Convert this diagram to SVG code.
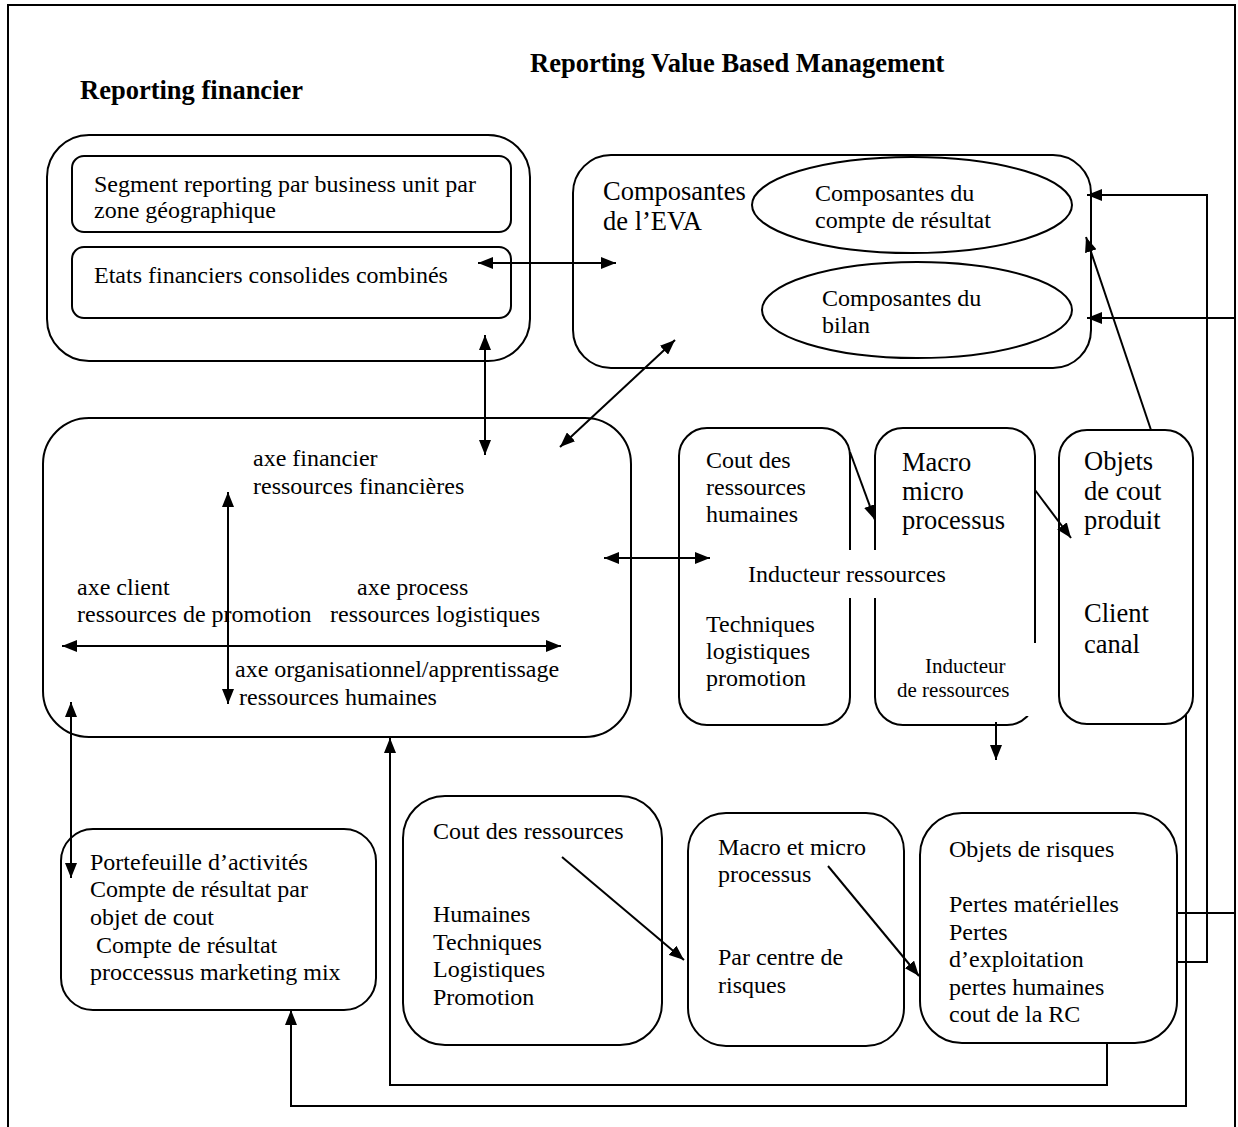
<svg xmlns="http://www.w3.org/2000/svg" width="1238" height="1127" viewBox="0 0 1238 1127">
<defs>
<style>
text{font-family:"Liberation Serif","Times New Roman",serif;fill:#000}
.b{font-size:24px}
.l{font-size:26.5px}
.s{font-size:21px}
.t{font-size:26.5px;font-weight:bold}
.box{fill:none;stroke:#000;stroke-width:2}
.ln{fill:none;stroke:#000;stroke-width:2}
.wb{fill:#fff;stroke:none}
</style>
<marker id="ah" viewBox="0 0 15 12" refX="15" refY="6" markerWidth="15" markerHeight="12" orient="auto-start-reverse" markerUnits="userSpaceOnUse"><path d="M0,0 L15,6 L0,12 z" fill="#000"/></marker>
</defs>
<rect width="1238" height="1127" fill="#fff"/>
<path d="M8,1127 V5 H1235 V1127" fill="none" stroke="#000" stroke-width="2"/>

<g id="titles">
<text class="t" x="530" y="72">Reporting Value Based Management</text>
<text class="t" x="80" y="99">Reporting financier</text>
</g>

<g id="n-reporting-financier"><rect class="box" x="47" y="135" width="483" height="226" rx="42"/></g>
<g id="n-segment"><rect class="box" x="72" y="156" width="439" height="76" rx="12"/>
<text class="b" x="94" y="192">Segment reporting par business unit par</text>
<text class="b" x="94" y="218">zone géographique</text></g>
<g id="n-etats"><rect class="box" x="72" y="247" width="439" height="71" rx="12"/>
<text class="b" x="94" y="283">Etats financiers consolides combinés</text></g>

<g id="n-eva"><rect class="box" x="573" y="155" width="518" height="213" rx="38"/>
<text class="l" x="603" y="200">Composantes</text>
<text class="l" x="603" y="230">de l’EVA</text></g>
<g id="n-eva-cr"><ellipse class="box" cx="912" cy="205" rx="160" ry="48"/>
<text class="b" x="815" y="201">Composantes du</text>
<text class="b" x="815" y="228">compte de résultat</text></g>
<g id="n-eva-bilan"><ellipse class="box" cx="917" cy="310" rx="155" ry="48"/>
<text class="b" x="822" y="306">Composantes du</text>
<text class="b" x="822" y="333">bilan</text></g>

<g id="n-axes"><rect class="box" x="43" y="418" width="588" height="319" rx="46"/>
<line class="ln" x1="228" y1="492" x2="228" y2="704" marker-start="url(#ah)" marker-end="url(#ah)"/>
<line class="ln" x1="62" y1="646" x2="561" y2="646" marker-start="url(#ah)" marker-end="url(#ah)"/>
<text class="b" x="253" y="466">axe financier</text>
<text class="b" x="253" y="494">ressources financières</text>
<text class="b" x="77" y="595">axe client</text>
<text class="b" x="77" y="622">ressources de promotion</text>
<text class="b" x="357" y="595">axe process</text>
<text class="b" x="330" y="622">ressources logistiques</text>
<text class="b" x="235" y="677">axe organisationnel/apprentissage</text>
<text class="b" x="239" y="705">ressources humaines</text></g>

<g id="n-cout-rh"><rect class="box" x="679" y="428" width="171" height="297" rx="28"/>
<text class="b" x="706" y="468">Cout des</text>
<text class="b" x="706" y="495">ressources</text>
<text class="b" x="706" y="522">humaines</text>
<text class="b" x="706" y="632">Techniques</text>
<text class="b" x="706" y="659">logistiques</text>
<text class="b" x="706" y="686">promotion</text></g>

<g id="n-macro"><rect class="box" x="875" y="428" width="160" height="297" rx="28"/>
<text class="l" x="902" y="471">Macro</text>
<text class="l" x="902" y="500">micro</text>
<text class="l" x="902" y="529">processus</text>
<rect class="wb" x="884" y="643" width="154" height="73"/>
<text class="s" x="925" y="673">Inducteur</text>
<text class="s" x="897" y="697">de ressources</text></g>

<g id="n-objets-cout"><rect class="box" x="1059" y="430" width="134" height="294" rx="28"/>
<text class="l" x="1084" y="470">Objets</text>
<text class="l" x="1084" y="500">de cout</text>
<text class="l" x="1084" y="529">produit</text>
<text class="l" x="1084" y="622">Client</text>
<text class="l" x="1084" y="653">canal</text></g>

<g id="lbl-inducteur">
<rect class="wb" x="720" y="550" width="280" height="48"/>
<text class="b" x="748" y="582">Inducteur ressources</text></g>

<g id="n-portefeuille"><rect class="box" x="61" y="829" width="315" height="181" rx="32"/>
<text class="b" x="90" y="870">Portefeuille d’activités</text>
<text class="b" x="90" y="897">Compte de résultat par</text>
<text class="b" x="90" y="925">objet de cout</text>
<text class="b" x="90" y="953" xml:space="preserve"> Compte de résultat</text>
<text class="b" x="90" y="980">proccessus marketing mix</text></g>

<g id="n-cout-ressources"><rect class="box" x="403" y="796" width="259" height="249" rx="42"/>
<text class="b" x="433" y="839">Cout des ressources</text>
<text class="b" x="433" y="922">Humaines</text>
<text class="b" x="433" y="950">Techniques</text>
<text class="b" x="433" y="977">Logistiques</text>
<text class="b" x="433" y="1005">Promotion</text></g>

<g id="n-macro-micro"><rect class="box" x="688" y="813" width="216" height="233" rx="38"/>
<text class="b" x="718" y="855">Macro et micro</text>
<text class="b" x="718" y="882">processus</text>
<text class="b" x="718" y="965">Par centre de</text>
<text class="b" x="718" y="993">risques</text></g>

<g id="n-objets-risques"><rect class="box" x="920" y="813" width="257" height="230" rx="42"/>
<text class="b" x="949" y="857">Objets de risques</text>
<text class="b" x="949" y="912">Pertes matérielles</text>
<text class="b" x="949" y="940">Pertes</text>
<text class="b" x="949" y="967">d’exploitation</text>
<text class="b" x="949" y="995">pertes humaines</text>
<text class="b" x="949" y="1022">cout de la RC</text></g>

<g id="connectors">
<line class="ln" x1="478" y1="263" x2="616" y2="263" marker-start="url(#ah)" marker-end="url(#ah)"/>
<line class="ln" x1="485" y1="335" x2="485" y2="455" marker-start="url(#ah)" marker-end="url(#ah)"/>
<line class="ln" x1="675" y1="340" x2="560" y2="447" marker-start="url(#ah)" marker-end="url(#ah)"/>
<line class="ln" x1="604" y1="558" x2="710" y2="558" marker-start="url(#ah)" marker-end="url(#ah)"/>
<line class="ln" x1="850" y1="452" x2="875" y2="520" marker-end="url(#ah)"/>
<line class="ln" x1="1035" y1="490" x2="1071" y2="538" marker-end="url(#ah)"/>
<line class="ln" x1="1151" y1="430" x2="1086" y2="237" marker-end="url(#ah)"/>
<line class="ln" x1="996" y1="722" x2="996" y2="760" marker-end="url(#ah)"/>
<polyline class="ln" points="1177,913 1235,913 1235,318 1087,318" marker-end="url(#ah)"/>
<polyline class="ln" points="1177,962 1207,962 1207,195 1087,195" marker-end="url(#ah)"/>
<polyline class="ln" points="1107,1043 1107,1085 390,1085 390,738" marker-end="url(#ah)"/>
<polyline class="ln" points="1186,715 1186,1106 291,1106 291,1010" marker-end="url(#ah)"/>
<line class="ln" x1="71" y1="702" x2="71" y2="878" marker-start="url(#ah)" marker-end="url(#ah)"/>
<line class="ln" x1="562" y1="857" x2="684" y2="960" marker-end="url(#ah)"/>
<line class="ln" x1="828" y1="866" x2="919" y2="976" marker-end="url(#ah)"/>
</g>
</svg>
